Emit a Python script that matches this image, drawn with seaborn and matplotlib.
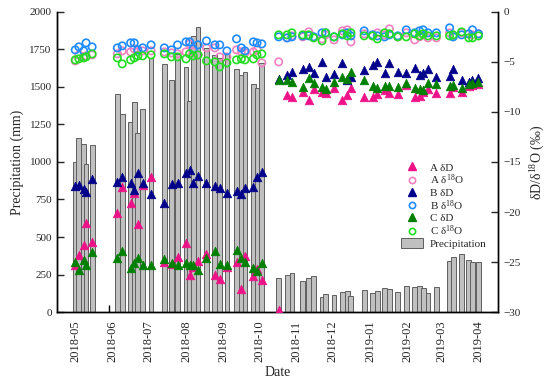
import pandas as pd
import matplotlib
matplotlib.use("Agg")
import matplotlib.pyplot as plt
import seaborn as sns
from matplotlib.patches import Patch
from matplotlib.lines import Line2D

# sampling dates (one bar + isotope samples per date)
dates = pd.to_datetime([
    "2018-05-01", "2018-05-04", "2018-05-08", "2018-05-10", "2018-05-15",
    "2018-06-05", "2018-06-09", "2018-06-16", "2018-06-19", "2018-06-22", "2018-06-26", "2018-07-03",
    "2018-07-14", "2018-07-20", "2018-07-25", "2018-08-01", "2018-08-04", "2018-08-07", "2018-08-11",
    "2018-08-18", "2018-08-25", "2018-08-29", "2018-09-04", "2018-09-12", "2018-09-16", "2018-09-19",
    "2018-09-26", "2018-09-29", "2018-10-03",
    "2018-10-17", "2018-10-24", "2018-10-28", "2018-11-06", "2018-11-11", "2018-11-15", "2018-11-22",
    "2018-11-25", "2018-12-02", "2018-12-09", "2018-12-13", "2018-12-16", "2018-12-27", "2019-01-03",
    "2019-01-07", "2019-01-13", "2019-01-17", "2019-01-24", "2019-01-31", "2019-02-07", "2019-02-11",
    "2019-02-14", "2019-02-18", "2019-02-25", "2019-03-08", "2019-03-11", "2019-03-18", "2019-03-24",
    "2019-03-27", "2019-04-01",
])

precip = [1000, 1160, 1120, 985, 1110,
          1450, 1320, 1265, 1400, 1190, 1350, 1690,
          1650, 1545, 1720, 1630, 1405, 1840, 1900, 1760, 1710, 1690, 1725, 1620, 1580, 1600,
          1520, 1495, 1660,
          225, 245, 258, 207, 224, 240, 98, 118, 113, 136, 140, 107, 147, 129, 140, 158, 151,
          131, 176, 164, 176, 158, 124, 169, 342, 364, 384, 347, 336, 336]

a_dD = [-25.3, -24.3, -23.3, -21.1, -23.0,
        -20.1, -17.5, -19.1, -18.1, -21.2, -17.3, -16.5,
        -25.0, -25.2, -24.5, -23.1, -26.3, -25.5, -24.9, -24.2, -26.3, -26.7, -25.5, -25.0,
        -27.7, -24.4, -26.4, -25.7, -26.8,
        -29.8, -8.3, -8.5, -8.0, -8.8, -7.7, -8.0, -8.1, -7.6, -8.8, -8.3, -7.6, -8.5, -8.5,
        -8.2, -7.8, -8.1, -8.2, -7.3, -8.5, -8.4, -8.0, -7.7, -8.1, -8.1, -7.5, -8.0, -7.4,
        -7.3, -7.2]
a_d18O = [-4.9, -4.3, -4.5, -4.4, -4.3,
          -4.2, -3.9, -4.0, -3.7, -4.0, -3.9, -3.9,
          -4.0, -4.1, -4.2, -4.0, -3.2, -4.0, -4.3, -3.6, -3.6, -4.5, -4.5, -3.8, -4.0, -4.1,
          -4.0, -3.8, -5.1,
          -5.0, -2.6, -2.4, -2.5, -2.0, -2.5, -2.7, -2.3, -2.8, -1.9, -1.8, -3.0, -2.2, -2.4,
          -2.1, -2.3, -1.7, -2.5, -2.1, -2.8, -2.5, -2.3, -2.6, -2.6, -2.1, -2.4, -2.1, -2.2,
          -2.3, -2.2]
b_dD = [-17.4, -17.3, -17.7, -18.0, -16.7,
        -17.0, -16.5, -17.1, -17.8, -16.1, -17.1, -18.2,
        -19.1, -17.2, -17.1, -16.1, -15.8, -17.1, -16.4, -17.1, -17.4, -17.6, -18.1, -17.9,
        -18.2, -17.6, -17.5, -16.5, -16.0,
        -6.7, -6.3, -6.0, -5.7, -5.5, -6.1, -5.0, -6.5, -6.2, -5.1, -6.8, -6.5, -5.8, -5.3,
        -5.0, -6.1, -5.1, -6.0, -6.1, -5.6, -6.3, -6.1, -5.7, -6.5, -6.4, -5.7, -6.8, -7.0,
        -6.8, -6.6]
b_d18O = [-3.8, -3.5, -3.9, -3.1, -3.5,
          -3.6, -3.4, -3.1, -3.1, -3.8, -3.6, -3.3,
          -3.6, -3.8, -3.3, -3.0, -3.0, -3.7, -3.3, -2.9, -3.3, -3.3, -3.9, -2.7, -3.6, -3.9,
          -3.0, -3.1, -3.2,
          -2.5, -2.6, -2.5, -2.4, -2.4, -2.5, -2.1, -2.1, -2.5, -2.3, -2.1, -2.4, -1.9, -2.3,
          -2.4, -2.5, -2.3, -2.4, -1.8, -2.1, -1.9, -1.8, -2.1, -2.1, -1.6, -2.5, -2.3, -2.2,
          -1.8, -2.2]
c_dD = [-25.0, -25.8, -24.8, -25.3, -24.0,
        -24.6, -23.9, -25.6, -25.1, -24.6, -25.3, -25.3,
        -24.7, -25.1, -25.3, -25.1, -25.3, -25.3, -25.8, -24.6, -23.9, -25.2, -25.3, -23.8,
        -24.6, -25.0, -25.6, -25.9, -25.1,
        -6.8, -6.8, -7.0, -7.5, -6.6, -7.1, -7.5, -7.7, -7.0, -6.5, -6.7, -6.0, -6.8, -7.4,
        -7.6, -7.4, -7.4, -7.5, -7.1, -7.6, -7.7, -7.8, -7.1, -7.2, -7.4, -7.3, -7.6, -7.2,
        -7.1, -7.0]
c_d18O = [-4.8, -4.7, -4.6, -4.5, -4.2,
          -4.6, -5.2, -4.8, -4.6, -4.4, -4.4, -4.3,
          -4.2, -4.5, -4.5, -4.7, -4.2, -4.4, -4.3, -4.9, -5.0, -5.5, -5.1, -4.8, -4.7, -4.8,
          -4.7, -4.3, -4.2,
          -2.3, -2.3, -2.1, -2.3, -2.3, -2.6, -2.9, -2.1, -2.5, -2.2, -2.4, -2.1, -2.4, -2.4,
          -2.7, -2.1, -2.2, -2.5, -2.5, -2.2, -2.4, -2.2, -2.4, -2.4, -2.4, -2.3, -2.0, -2.6,
          -2.6, -2.4]

month_ticks = pd.date_range("2018-05-01", "2019-04-01", freq="MS")
odd_ticks = pd.to_datetime(["2018-05-29", "2018-08-08", "2018-10-17", "2018-12-27", "2019-03-08"])

sns.set_style("ticks")
plt.rcParams['font.family'] = ['Liberation Serif', 'DejaVu Serif']
plt.rcParams['mathtext.fontset'] = 'custom'
plt.rcParams['mathtext.rm'] = 'Liberation Serif'
plt.rcParams['mathtext.it'] = 'Liberation Serif:italic'

fig, ax = plt.subplots(figsize=(5.5, 3.82), dpi=100)
fig.subplots_adjust(left=0.104, right=0.905, top=0.969, bottom=0.183)

ax.bar(dates, precip, width=4, color='#c0c0c0', edgecolor='#5f5f5f', linewidth=0.7, zorder=1)
ax.set_ylim(0, 2000)
ax.set_yticks(range(0, 2001, 250))
ax.set_xlim(pd.Timestamp("2018-04-16"), pd.Timestamp("2019-04-17"))
ax.set_ylabel("Precipitation (mm)", fontsize=10, labelpad=4)
ax.set_xlabel("Date", fontsize=10, labelpad=3)

ax.set_xticks(month_ticks)
ax.set_xticklabels([d.strftime("%Y-%m") for d in month_ticks], rotation=90, fontsize=9)
ax.set_xticks(odd_ticks, minor=True)
ax.tick_params(axis='x', which='major', length=0, pad=6)
ax.tick_params(axis='x', which='minor', direction='in', length=5, width=1, color='black')
ax.tick_params(axis='y', direction='in', length=5, width=1, labelsize=8, pad=4)

ax2 = ax.twinx()
series = [
    ("A δD", a_dD, '#ee1289', '^', True),
    (r"A δ$^{18}$O", a_d18O, '#f27fbf', 'o', False),
    ("B δD", b_dD, '#00008b', '^', True),
    (r"B δ$^{18}$O", b_d18O, '#1e8cff', 'o', False),
    ("C δD", c_dD, '#008000', '^', True),
    (r"C δ$^{18}$O", c_d18O, '#22dd22', 'o', False),
]
handles = []
for label, vals, col, mk, filled in series:
    if filled:
        sns.scatterplot(x=dates, y=vals, marker='^', color=col, edgecolor=col,
                        s=38, linewidth=0.5, ax=ax2, zorder=3)
        handles.append(Line2D([], [], marker='^', ls='none', color=col, markersize=6, label=label))
    else:
        sns.scatterplot(x=dates, y=vals, marker='o', color=col, facecolor='none',
                        edgecolor=col, s=28, linewidth=1.2, ax=ax2, zorder=3)
        handles.append(Line2D([], [], marker='o', ls='none', markerfacecolor='none',
                              markeredgecolor=col, markeredgewidth=1.2, markersize=4.5,
                              label=label))
handles.append(Patch(facecolor='#c0c0c0', edgecolor='#5f5f5f', linewidth=0.7, label='Precipitation'))

ax2.set_ylim(-30, 0)
ax2.set_yticks(range(-30, 1, 5))
ax2.set_ylabel(r"δD/δ$^{18}$O (‰)", fontsize=10, labelpad=6)
ax2.tick_params(axis='y', direction='in', length=5, width=1, labelsize=8, pad=4)
ax2.set_xlim(ax.get_xlim())

for a in (ax, ax2):
    a.spines['top'].set_visible(False)
    for s in ('left', 'right', 'bottom'):
        a.spines[s].set_linewidth(1.0)
        a.spines[s].set_color('black')

ax2.legend(handles=handles, loc='upper left', bbox_to_anchor=(0.77, 0.515),
           frameon=False, fontsize=8, handlelength=2.0, handleheight=1.0,
           labelspacing=0.0, handletextpad=0.6, borderaxespad=0)

fig.savefig("out.png", dpi=100)
